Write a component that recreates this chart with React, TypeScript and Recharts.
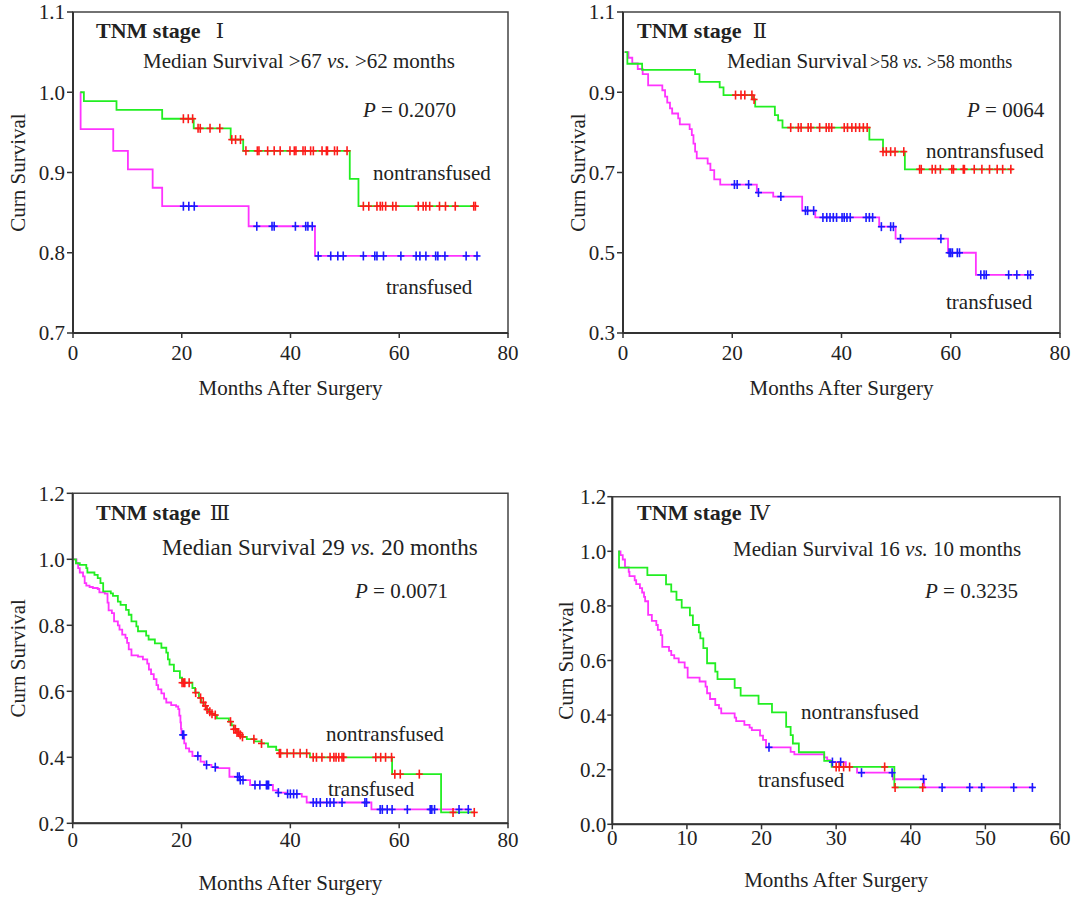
import React from 'react';
import { ComposedChart, Line, Scatter, XAxis, YAxis, ReferenceArea } from 'recharts';

type Pt = [number, number];

const FONT = "'Liberation Serif', 'Times New Roman', serif";
const GREEN = '#22ee22';
const MAGENTA = '#ff33ff';
const RED = '#ff1a1a';
const BLUE = '#1a1aff';
const INK = '#222';

// ---- TNM stage I ----
const s1NonCurve: Pt[] = [[1.35, 1.0], [2.0, 0.989], [8.0, 0.978], [16.4, 0.967], [22.2, 0.955], [29.0, 0.941], [31.3, 0.927], [50.9, 0.892], [52.5, 0.858]];
const s1NonEnd = 74.2;
const s1NonCensor = [20.3, 21.2, 22.0, 23.0, 23.4, 25.2, 27.0, 29.2, 29.9, 30.8, 31.8, 33.9, 34.2, 35.8, 37.0, 38.1, 39.9, 40.7, 41.0, 42.3, 42.7, 43.7, 44.2, 45.8, 46.6, 46.8, 48.1, 48.6, 50.4, 53.4, 54.4, 55.9, 56.5, 56.9, 57.5, 58.8, 59.4, 63.5, 64.4, 64.9, 65.6, 67.4, 68.5, 70.3, 73.7, 74.0];
const s1TraCurve: Pt[] = [[1.35, 1.0], [1.4, 0.954], [7.4, 0.927], [10.1, 0.904], [14.65, 0.881], [16.4, 0.858], [32.3, 0.833], [44.5, 0.796]];
const s1TraEnd = 74.6;
const s1TraCensor = [20.3, 21.3, 22.3, 33.8, 36.6, 37.0, 40.9, 42.8, 43.2, 44.0, 45.1, 47.4, 48.7, 49.7, 53.4, 55.5, 55.9, 57.1, 60.3, 63.1, 63.8, 64.9, 66.7, 67.1, 68.4, 72.3, 74.3];
const s1YTicks = [0.7, 0.8, 0.9, 1.0, 1.1];

// ---- TNM stage II ----
const s2NonCurve: Pt[] = [[0.3, 1.0], [0.8, 0.971], [3.5, 0.956], [13.2, 0.945], [14.0, 0.926], [17.7, 0.912], [18.4, 0.893], [23.8, 0.882], [24.2, 0.864], [27.8, 0.843], [28.4, 0.83], [29.2, 0.812], [45.1, 0.782], [47.6, 0.752], [51.6, 0.708]];
const s2NonEnd = 71.4;
const s2NonCensor = [20.6, 21.6, 22.3, 23.6, 24.0, 30.7, 32.1, 32.6, 33.9, 34.4, 36.0, 37.2, 37.7, 38.2, 40.5, 41.1, 41.9, 42.6, 43.3, 44.0, 44.7, 47.6, 48.2, 49.0, 49.8, 51.4, 54.3, 54.6, 56.6, 57.2, 58.1, 60.2, 60.5, 62.3, 62.5, 64.3, 65.7, 67.1, 68.5, 69.5, 71.0];
const s2TraCurve: Pt[] = [[0.3, 1.0], [1.0, 0.986], [1.7, 0.972], [2.7, 0.958], [3.6, 0.945], [4.6, 0.917], [7.2, 0.905], [7.7, 0.889], [8.1, 0.874], [8.6, 0.86], [9.0, 0.847], [10.1, 0.835], [10.4, 0.82], [12.2, 0.808], [12.6, 0.793], [12.9, 0.772], [13.2, 0.752], [13.5, 0.735], [15.5, 0.722], [16.0, 0.706], [16.7, 0.683], [17.8, 0.67], [24.5, 0.65], [27.5, 0.64], [32.8, 0.605], [35.2, 0.588], [46.9, 0.565], [49.9, 0.535], [59.5, 0.5], [64.6, 0.445]];
const s2TraEnd = 75.0;
const s2TraCensor = [20.4, 20.9, 23.0, 24.8, 28.9, 33.4, 33.8, 34.9, 36.6, 37.3, 37.9, 38.5, 39.1, 40.1, 40.5, 41.0, 41.6, 44.5, 45.1, 45.7, 47.3, 49.0, 49.5, 50.8, 58.2, 59.7, 60.0, 60.3, 61.2, 61.6, 65.5, 66.1, 66.5, 70.6, 72.1, 74.1, 74.6];
const s2YTicks = [0.3, 0.5, 0.7, 0.9, 1.1];

// ---- TNM stage III ----
const s3NonCurve: Pt[] = [[0, 1.0], [0.6, 0.988], [1.3, 0.983], [2.5, 0.973], [2.7, 0.96], [4.0, 0.953], [4.6, 0.943], [5.1, 0.928], [5.6, 0.903], [7.0, 0.897], [7.4, 0.889], [8.3, 0.872], [8.8, 0.862], [9.8, 0.847], [10.3, 0.832], [10.8, 0.812], [11.7, 0.797], [12.0, 0.782], [13.5, 0.769], [13.95, 0.757], [15.1, 0.745], [16.3, 0.732], [17.2, 0.717], [17.5, 0.697], [17.8, 0.681], [18.6, 0.661], [19.7, 0.641], [20.1, 0.626], [22.0, 0.61], [22.5, 0.596], [23.2, 0.58], [23.6, 0.566], [24.1, 0.556], [24.5, 0.545], [25.0, 0.538], [25.4, 0.532], [26.0, 0.528], [26.5, 0.518], [28.7, 0.508], [29.2, 0.497], [29.6, 0.485], [30.2, 0.475], [30.8, 0.468], [31.2, 0.462], [32.0, 0.455], [33.4, 0.448], [34.7, 0.442], [35.9, 0.432], [37.4, 0.422], [38.0, 0.412], [43.6, 0.4], [58.7, 0.349], [67.7, 0.233]];
const s3NonEnd = 73.8;
const s3NonCensor = [20.1, 20.4, 20.6, 21.4, 22.6, 23.5, 24.0, 24.4, 24.7, 25.2, 25.6, 26.2, 29.0, 29.6, 29.9, 30.2, 30.5, 30.8, 31.2, 33.3, 34.7, 38.0, 38.2, 39.4, 40.6, 41.8, 43.0, 44.2, 44.8, 45.8, 47.3, 48.0, 48.4, 48.9, 49.5, 49.8, 55.7, 56.6, 57.5, 58.6, 59.2, 60.2, 63.7, 69.9, 73.8];
const s3TraCurve: Pt[] = [[0, 1.0], [0.7, 0.988], [1.0, 0.973], [1.3, 0.96], [1.9, 0.948], [2.2, 0.928], [2.5, 0.92], [3.1, 0.916], [3.7, 0.913], [4.6, 0.91], [4.9, 0.9], [5.9, 0.896], [6.4, 0.869], [6.6, 0.845], [7.2, 0.837], [7.6, 0.812], [8.3, 0.8], [8.6, 0.787], [9.1, 0.772], [9.7, 0.762], [10.0, 0.747], [10.3, 0.727], [10.8, 0.709], [12.0, 0.705], [12.9, 0.697], [13.7, 0.684], [14.0, 0.666], [14.4, 0.652], [14.9, 0.637], [15.4, 0.619], [15.7, 0.606], [16.3, 0.594], [16.8, 0.578], [17.2, 0.566], [18.1, 0.558], [19.0, 0.554], [19.4, 0.546], [19.6, 0.526], [19.8, 0.506], [19.9, 0.486], [20.0, 0.468], [20.5, 0.442], [20.8, 0.427], [21.4, 0.417], [22.0, 0.404], [23.5, 0.387], [24.2, 0.377], [25.5, 0.37], [26.5, 0.367], [28.8, 0.341], [30.7, 0.331], [32.6, 0.316], [36.8, 0.3], [37.6, 0.293], [39.2, 0.289], [42.1, 0.281], [43.0, 0.263], [54.9, 0.242]];
const s3TraEnd = 73.1;
const s3TraCensor = [20.2, 20.4, 23.0, 24.6, 26.2, 30.3, 30.6, 30.8, 31.3, 33.5, 34.4, 35.6, 35.8, 36.0, 37.8, 39.5, 40.0, 40.6, 41.2, 44.2, 44.8, 45.5, 46.7, 47.3, 48.0, 49.5, 53.7, 54.0, 56.5, 56.9, 57.8, 58.7, 61.5, 65.7, 66.0, 66.5, 71.0, 72.7];
const s3YTicks = [0.2, 0.4, 0.6, 0.8, 1.0, 1.2];

// ---- TNM stage IV ----
const s4NonCurve: Pt[] = [[0.8, 1.0], [0.9, 0.94], [4.7, 0.913], [7.2, 0.879], [7.9, 0.852], [8.6, 0.822], [9.3, 0.794], [10.4, 0.765], [10.8, 0.73], [11.6, 0.703], [11.8, 0.681], [12.2, 0.645], [12.7, 0.59], [13.8, 0.559], [14.1, 0.532], [16.4, 0.5], [17.2, 0.471], [19.6, 0.441], [21.4, 0.41], [23.3, 0.357], [23.9, 0.327], [24.2, 0.296], [25.0, 0.264], [28.4, 0.232], [29.4, 0.21], [37.8, 0.135]];
const s4NonEnd = 41.8;
const s4NonCensor = [30.0, 30.4, 31.0, 31.8, 36.5, 37.9, 41.6];
const s4TraCurve: Pt[] = [[0.8, 1.0], [1.1, 0.986], [1.4, 0.97], [1.7, 0.941], [2.2, 0.925], [2.3, 0.909], [3.0, 0.894], [3.2, 0.88], [3.7, 0.865], [4.0, 0.849], [4.25, 0.833], [4.4, 0.817], [4.8, 0.767], [5.3, 0.745], [5.9, 0.73], [6.1, 0.712], [6.5, 0.693], [6.7, 0.65], [7.6, 0.635], [7.9, 0.62], [8.3, 0.608], [8.9, 0.593], [9.7, 0.574], [10.1, 0.537], [11.7, 0.523], [12.5, 0.504], [12.7, 0.48], [13.1, 0.459], [13.8, 0.437], [14.3, 0.425], [14.6, 0.406], [16.4, 0.391], [16.6, 0.378], [17.7, 0.364], [18.4, 0.354], [18.7, 0.345], [19.8, 0.325], [20.2, 0.309], [20.6, 0.282], [23.9, 0.265], [24.4, 0.256], [28.4, 0.245], [28.8, 0.235], [29.2, 0.228], [31.3, 0.21], [32.8, 0.189], [37.6, 0.165], [41.8, 0.135]];
const s4TraEnd = 56.5;
const s4TraCensor = [21.0, 29.5, 30.6, 33.4, 37.5, 41.7, 44.2, 47.9, 49.5, 53.8, 56.3];
const s4YTicks = [0.0, 0.2, 0.4, 0.6, 0.8, 1.0, 1.2];

const monthTicks80 = [0, 20, 40, 60, 80];
const monthTicks60 = [0, 10, 20, 30, 40, 50, 60];

function survivalAt(curve: Pt[], t: number) {
  let s = curve[0][1];
  for (const [ti, si] of curve) if (ti <= t) s = si;
  return s;
}

const toLine = (curve: Pt[], end: number) => [
  ...curve.map(([t, s]) => ({ t, s })),
  { t: end, s: curve[curve.length - 1][1] },
];

const toMarks = (curve: Pt[], times: number[]) => times.map((t) => ({ t, s: survivalAt(curve, t) }));

const cross = (color: string) => (props: any) => {
  const { cx, cy } = props;
  if (cx == null || cy == null) return <g />;
  return (
    <g>
      <line x1={cx} y1={cy - 4.5} x2={cx} y2={cy + 4.5} stroke={color} strokeWidth={1.6} />
      <line x1={cx - 3.5} y1={cy} x2={cx + 3.5} y2={cy} stroke={color} strokeWidth={1.6} />
    </g>
  );
};

interface PanelCfg {
  left: number;
  top: number;
  width: number;
  height: number;
  margin: { top: number; right: number; left: number; bottom: number };
  yWidth: number;
  xHeight: number;
  xMax: number;
  xTicks: number[];
  xTickMargin: number;
  xLabelOffset: number;
  yTicks: number[];
  yTickSize: number;
  yTickMargin: number;
  yLabelOffset: number;
  nonCurve: Pt[];
  nonEnd: number;
  nonCensor: number[];
  traCurve: Pt[];
  traEnd: number;
  traCensor: number[];
}

const panels: PanelCfg[] = [
  {
    left: 0, top: 0, width: 530, height: 420,
    margin: { top: 12, right: 22, left: 0, bottom: 0 }, yWidth: 73, xHeight: 87,
    xMax: 80, xTicks: monthTicks80, xTickMargin: 7, xLabelOffset: 25,
    yTicks: s1YTicks, yTickSize: 6, yTickMargin: 2, yLabelOffset: 17.5,
    nonCurve: s1NonCurve, nonEnd: s1NonEnd, nonCensor: s1NonCensor,
    traCurve: s1TraCurve, traEnd: s1TraEnd, traCensor: s1TraCensor,
  },
  {
    left: 550, top: 0, width: 534, height: 420,
    margin: { top: 12, right: 24, left: 0, bottom: 0 }, yWidth: 73, xHeight: 87,
    xMax: 80, xTicks: monthTicks80, xTickMargin: 7, xLabelOffset: 25,
    yTicks: s2YTicks, yTickSize: 6, yTickMargin: 2, yLabelOffset: 27.5,
    nonCurve: s2NonCurve, nonEnd: s2NonEnd, nonCensor: s2NonCensor,
    traCurve: s2TraCurve, traEnd: s2TraEnd, traCensor: s2TraCensor,
  },
  {
    left: 0, top: 470, width: 530, height: 428,
    margin: { top: 23.3, right: 22, left: 0, bottom: 0 }, yWidth: 72.7, xHeight: 74.7,
    xMax: 80, xTicks: monthTicks80, xTickMargin: 3.8, xLabelOffset: 8,
    yTicks: s3YTicks, yTickSize: 6, yTickMargin: 2, yLabelOffset: 17.5,
    nonCurve: s3NonCurve, nonEnd: s3NonEnd, nonCensor: s3NonCensor,
    traCurve: s3TraCurve, traEnd: s3TraEnd, traCensor: s3TraCensor,
  },
  {
    left: 550, top: 470, width: 534, height: 428,
    margin: { top: 26.7, right: 24, left: 0, bottom: 0 }, yWidth: 62.3, xHeight: 73.7,
    xMax: 60, xTicks: monthTicks60, xTickMargin: 1, xLabelOffset: 11.3,
    yTicks: s4YTicks, yTickSize: 5, yTickMargin: 1, yLabelOffset: 16,
    nonCurve: s4NonCurve, nonEnd: s4NonEnd, nonCensor: s4NonCensor,
    traCurve: s4TraCurve, traEnd: s4TraEnd, traCensor: s4TraCensor,
  },
];

function KMPanel({ p }: { p: PanelCfg }) {
  const yMin = p.yTicks[0];
  const yMax = p.yTicks[p.yTicks.length - 1];
  const tickStyle = { fontFamily: FONT, fontSize: 21, fill: INK };
  return (
    <div style={{ position: 'absolute', left: p.left, top: p.top }}>
      <ComposedChart width={p.width} height={p.height} margin={p.margin}>
        <XAxis
          type="number"
          dataKey="t"
          domain={[0, p.xMax]}
          ticks={p.xTicks}
          interval={0}
          height={p.xHeight}
          tick={tickStyle}
          tickSize={5}
          tickMargin={p.xTickMargin}
          axisLine={{ stroke: '#333', strokeWidth: 2 }}
          tickLine={{ stroke: '#333', strokeWidth: 1.5 }}
          label={{
            value: 'Months After Surgery',
            position: 'insideBottom',
            offset: p.xLabelOffset,
            fontFamily: FONT,
            fontSize: 21,
            fill: INK,
          }}
        />
        <YAxis
          type="number"
          dataKey="s"
          domain={[yMin, yMax]}
          ticks={p.yTicks}
          interval={0}
          width={p.yWidth}
          tick={tickStyle}
          tickSize={p.yTickSize}
          tickMargin={p.yTickMargin}
          tickFormatter={(v: number) => v.toFixed(1)}
          axisLine={{ stroke: '#333', strokeWidth: 2 }}
          tickLine={{ stroke: '#333', strokeWidth: 1.5 }}
          label={{
            value: 'Curn Survival',
            angle: -90,
            position: 'insideLeft',
            offset: p.yLabelOffset,
            fontFamily: FONT,
            fontSize: 21,
            fill: INK,
            style: { textAnchor: 'middle' },
          }}
        />
        <ReferenceArea x1={0} x2={p.xMax} y1={yMin} y2={yMax} fill="none" stroke="#444" strokeWidth={1.5} />
        <Line
          data={toLine(p.traCurve, p.traEnd)}
          dataKey="s"
          type="stepAfter"
          stroke={MAGENTA}
          strokeWidth={1.8}
          dot={false}
          isAnimationActive={false}
        />
        <Line
          data={toLine(p.nonCurve, p.nonEnd)}
          dataKey="s"
          type="stepAfter"
          stroke={GREEN}
          strokeWidth={1.8}
          dot={false}
          isAnimationActive={false}
        />
        <Scatter data={toMarks(p.traCurve, p.traCensor)} shape={cross(BLUE)} isAnimationActive={false} />
        <Scatter data={toMarks(p.nonCurve, p.nonCensor)} shape={cross(RED)} isAnimationActive={false} />
      </ComposedChart>
    </div>
  );
}

function Annotations() {
  const stage = (x: number, y: number, numeral: string, nx: number) => (
    <>
      <text x={x} y={y} fontSize={22} fontWeight="bold">TNM stage</text>
      <text x={nx} y={y} fontSize={21} textAnchor="middle" fontFamily="'DejaVu Serif', 'Noto Sans CJK SC', serif">{numeral}</text>
    </>
  );
  return (
    <svg
      width={1084}
      height={898}
      style={{ position: 'absolute', left: 0, top: 0, pointerEvents: 'none' }}
      fontFamily={FONT}
      fill={INK}
    >
      {stage(96, 37.5, 'Ⅰ', 220)}
      <text x={143} y={68.3} fontSize={21}>
        Median Survival &gt;67 <tspan fontStyle="italic">vs.</tspan> &gt;62 months
      </text>
      <text x={363} y={116.7} fontSize={21}>
        <tspan fontStyle="italic">P</tspan> = 0.2070
      </text>
      <text x={373} y={180} fontSize={21}>nontransfused</text>
      <text x={386} y={294.3} fontSize={21}>transfused</text>

      {stage(637, 37.5, 'Ⅱ', 760)}
      <text x={727} y={68.3} fontSize={21}>Median Survival</text>
      <text x={870} y={68.3} fontSize={18}>
        &gt;58 <tspan fontStyle="italic">vs.</tspan> &gt;58 months
      </text>
      <text x={967} y={116.7} fontSize={21}>
        <tspan fontStyle="italic">P</tspan> = 0064
      </text>
      <text x={926} y={158.3} fontSize={21}>nontransfused</text>
      <text x={946} y={309.3} fontSize={21}>transfused</text>

      {stage(96, 520, 'Ⅲ', 220)}
      <text x={162} y={555} fontSize={23}>
        Median Survival 29 <tspan fontStyle="italic">vs.</tspan> 20 months
      </text>
      <text x={355} y={598.3} fontSize={21}>
        <tspan fontStyle="italic">P</tspan> = 0.0071
      </text>
      <text x={326} y={740.7} fontSize={21}>nontransfused</text>
      <text x={328} y={796} fontSize={21}>transfused</text>

      {stage(637, 520, 'Ⅳ', 759.5)}
      <text x={733} y={556} fontSize={21}>
        Median Survival 16 <tspan fontStyle="italic">vs.</tspan> 10 months
      </text>
      <text x={925} y={598.3} fontSize={21}>
        <tspan fontStyle="italic">P</tspan> = 0.3235
      </text>
      <text x={801} y={719.3} fontSize={21}>nontransfused</text>
      <text x={758} y={787.3} fontSize={21}>transfused</text>
    </svg>
  );
}

export default function App() {
  return (
    <div style={{ position: 'absolute', left: 0, top: 0, width: 1084, height: 898, background: '#fff', overflow: 'hidden' }}>
      {panels.map((p, i) => (
        <KMPanel key={i} p={p} />
      ))}
      <Annotations />
    </div>
  );
}
